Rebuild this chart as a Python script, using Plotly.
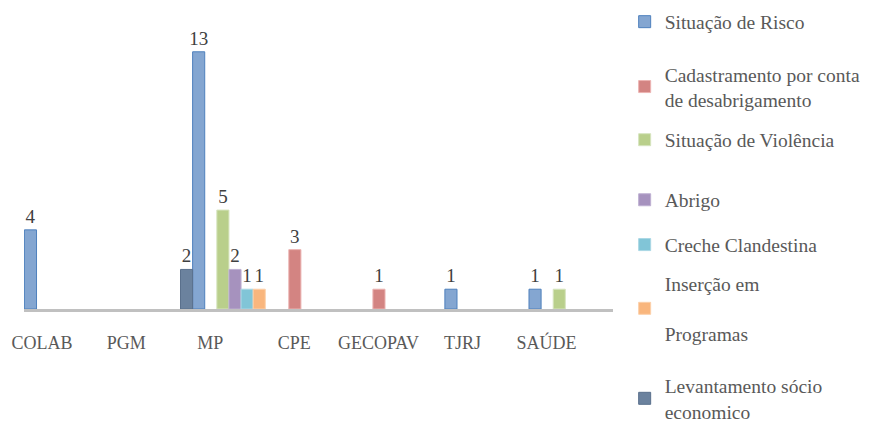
import plotly.graph_objects as go

# Categories (agencies) on the x axis
categories = ["COLAB", "PGM", "MP", "CPE", "GECOPAV", "TJRJ", "SAÚDE"]

# Counts per series; None = no bar for that agency
situacao_risco = [4, None, 13, None, None, 1, 1]
cadastramento = [None, None, None, 3, 1, None, None]
situacao_violencia = [None, None, 5, None, None, None, 1]
abrigo = [None, None, 2, None, None, None, None]
creche_clandestina = [None, None, 1, None, None, None, None]
insercao_programas = [None, None, 1, None, None, None, None]
levantamento = [None, None, 2, None, None, None, None]

series_names = [
    "Situação de Risco",
    "Cadastramento por conta<br>de desabrigamento",
    "Situação de Violência",
    "Abrigo",
    "Creche Clandestina",
    "Inserção em<br><br>Programas",
    "Levantamento sócio<br>economico",
]
series_values = [
    situacao_risco,
    cadastramento,
    situacao_violencia,
    abrigo,
    creche_clandestina,
    insercao_programas,
    levantamento,
]

# Styling: fill, outline and slot within each category cluster
fills = ["rgb(132,166,209)", "rgb(211,132,130)", "rgb(185,207,139)",
         "rgb(166,146,190)", "rgb(129,197,215)", "rgb(249,182,125)",
         "rgb(107,130,158)"]
outlines = ["rgb(79,129,189)", "rgb(236,180,178)", "rgb(214,228,190)",
            "rgb(190,176,210)", "rgb(170,215,228)", "rgb(252,208,170)",
            "rgb(90,112,140)"]
slots = [1, 2, 3, 4, 5, 6, 0]
slot_width = 0.144
first_offset = -0.639

# One legend box per series, stacked down the right side (container fraction, centre)
legend_y = [0.948, 0.795, 0.669, 0.527, 0.421, 0.270, 0.058]
legend_font = dict(family="Liberation Serif", size=19.5, color="#595959")

fig = go.Figure()
layout_legends = {}
for i, (name, vals, fill, edge, slot) in enumerate(
        zip(series_names, series_values, fills, outlines, slots)):
    legend_id = "legend" if i == 0 else f"legend{i + 1}"
    fig.add_trace(go.Bar(
        x=categories,
        y=vals,
        name=name,
        legend=legend_id,
        offset=first_offset + slot * slot_width,
        width=slot_width,
        marker=dict(color=fill, line=dict(color=edge, width=1)),
        text=[str(v) if v is not None else "" for v in vals],
        textposition="outside",
        constraintext="none",
        cliponaxis=False,
        textfont=dict(family="Liberation Serif", size=19, color="#404040"),
        hoverinfo="x+y+name",
    ))
    layout_legends[legend_id] = dict(
        xref="container", yref="container",
        x=0.718, y=legend_y[i], xanchor="left", yanchor="middle",
        font=legend_font,
        bgcolor="rgba(0,0,0,0)",
    )

fig.update_layout(
    width=870,
    height=423,
    margin=dict(l=17, r=254, t=32, b=114),
    paper_bgcolor="white",
    plot_bgcolor="white",
    barmode="overlay",
    showlegend=True,
    xaxis=dict(
        type="category",
        range=[-0.5, 6.5],
        showgrid=False,
        zeroline=False,
        showline=True,
        linecolor="#c0c0c0",
        linewidth=3,
        ticks="",
        ticklabelshift=-24,
        ticklabelstandoff=15,
        tickfont=dict(family="Liberation Serif", size=18, color="#595959"),
    ),
    yaxis=dict(
        range=[0, 14],
        visible=False,
        showgrid=False,
        zeroline=False,
    ),
    **layout_legends,
)

fig.write_html("out.html")
